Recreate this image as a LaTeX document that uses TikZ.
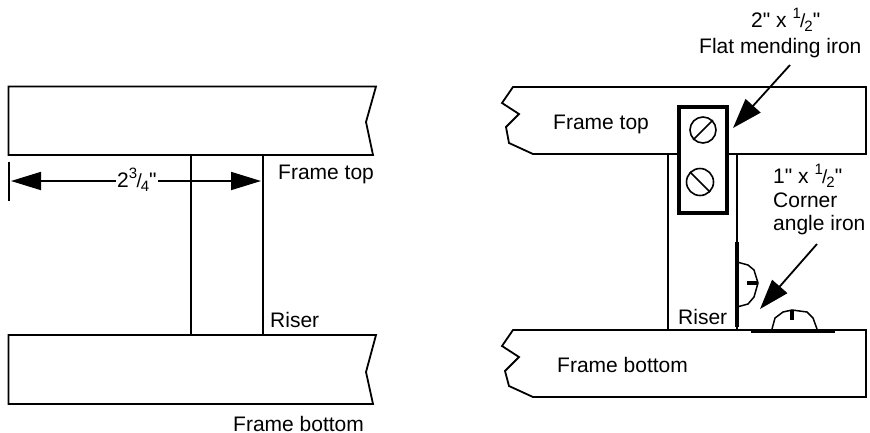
\documentclass[tikz,border=0pt]{standalone}
\usepackage{fontspec}
\setmainfont{Liberation Sans}[Ligatures=TeXOff]
\usetikzlibrary{arrows.meta}
\newcommand{\frc}[2]{\raisebox{0.42em}{\fontsize{15}{15}\selectfont #1}\kern-0.03em{\fontsize{19}{19}\selectfont /}\kern-0.05em\raisebox{-0.22em}{\fontsize{15}{15}\selectfont #2}}
\tikzset{
    board/.style={draw=black,line width=1.8pt,fill=white,line join=miter},
    riser/.style={draw=black,line width=1.8pt},
    iron/.style={draw=black,line width=4pt,line cap=butt},
    head/.style={draw=black,line width=1.5pt},
    slot/.style={draw=black,line width=1.6pt},
    label/.style={inner sep=0pt,anchor=base west,font=\fontsize{21}{25}\selectfont},
    pointer/.style={draw=black,line width=1.8pt,-{Triangle[length=30pt,width=20pt]}},
    dim/.style={draw=black,line width=1.8pt,{Triangle[length=30pt,width=18pt]}-{Triangle[length=30pt,width=18pt]}}
}
\begin{document}
\begin{tikzpicture}[x=1pt,y=-1pt]
    \useasboundingbox (0,0) rectangle (870,432);
    % left joint
    \path[board] (8.5,86.5) -- (376,86.5) -- (366,122) -- (373,155) -- (8.5,155) -- cycle;
    \path[board] (8.5,335) -- (376,335) -- (366,372) -- (373,404) -- (8.5,404) -- cycle;
    \path[riser] (191,155) rectangle (263,335);
    \draw[riser] (9,162) -- (9,201);

    \coordinate (dim_left) at (11,181);
    \coordinate (dim_right) at (261,181);
    \path[dim] (dim_left) -- (dim_right);
    \node[label,fill=white,inner xsep=1pt,inner ysep=2pt] (dim_text) at (116,187) {2\frc{3}{4}"};
    \node[label] (top_left) at (278,179) {Frame top};
    \node[label] (riser_left) at (270,327) {Riser};
    \node[label] (bottom_left) at (233,431) {Frame bottom};

    % right joint
    \path[board] (513,87) -- (866,87) -- (866,154) -- (533,154) -- (509,143) -- (506,127) -- (519,114) -- (502,103) -- cycle;
    \path[board] (513,330) -- (866,330) -- (866,397) -- (533,397) -- (509,386) -- (505,371) -- (519,357) -- (502,346) -- cycle;
    \draw[riser] (668,154) -- (668,330);
    \draw[riser] (737,154) -- (737,330);
    \path[iron,fill=white] (679,107) rectangle (727,213);
    \node[draw=black,circle,line width=1.6pt,minimum size=26pt,inner sep=0pt] (screw_top) at (703,130) {};
    \node[draw=black,circle,line width=1.6pt,minimum size=27pt,inner sep=0pt] (screw_low) at (700,182) {};
    \draw[slot] (screw_top.south west) -- (screw_top.north east);
    \draw[slot] (screw_low.north west) -- (screw_low.south east);

    % angle iron
    \draw[iron] (737,242) -- (737,327);
    \draw[iron] (751,331) -- (835,331);
    \draw[head] (737,262) -- (748,265) -- (754,270) -- (758,283) -- (754,297) -- (748,304) -- (737,307);
    \draw[head] (772,329) -- (775,318) -- (783,312) -- (792,310) -- (807,312) -- (813,318) -- (817,329);
    \draw[iron] (747,283) -- (757,283);
    \draw[iron] (792,310) -- (792,320);

    \coordinate (flat_from) at (790,65);
    \coordinate (flat_tip) at (733,128);
    \coordinate (corner_from) at (817,244);
    \coordinate (corner_tip) at (760,309);
    \path[pointer] (flat_from) -- (flat_tip);
    \path[pointer] (corner_from) -- (corner_tip);

    \node[label] (flat_size) at (751,27) {2" x \frc{1}{2}"};
    \node[label] (flat_name) at (699,53) {Flat mending iron};
    \node[label] (corner_size) at (773,183) {1" x \frc{1}{2}"};
    \node[label] (corner_name) at (773,207) {Corner};
    \node[label] (corner_angle) at (773,230) {angle iron};
    \node[label] (top_right) at (553,129) {Frame top};
    \node[label] (riser_right) at (678,324) {Riser};
    \node[label] (bottom_right) at (557,372) {Frame bottom};
\end{tikzpicture}
\end{document}
